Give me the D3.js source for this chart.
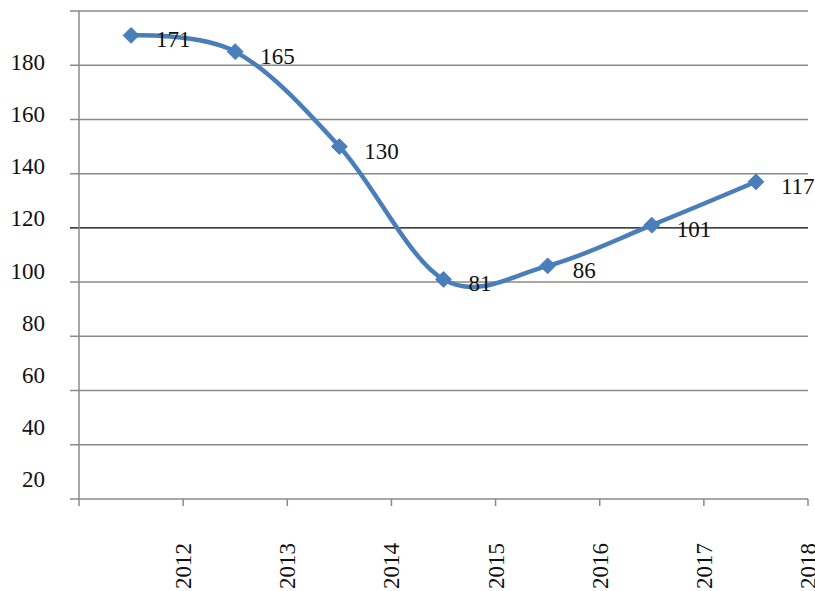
<!DOCTYPE html>
<html><head><meta charset="utf-8">
<script src="https://cdn.jsdelivr.net/npm/d3@7"></script>
<style>body{margin:0;background:#fff}svg{display:block}</style>
</head><body>
<svg id="c" width="815" height="591"></svg>
<script>
const categories = ["2012","2013","2014","2015","2016","2017","2018"];
const values = [171,165,130,81,86,101,117];
const gridValues = [0,20,40,60,80,100,120,140,160,180];
const tickLabels = [20,40,60,80,100,120,140,160,180];

(function(){
const svg = d3.select("#c");
const font = "'Liberation Serif','Times New Roman',serif";
const pL = 79, pR = 808, pT = 11, pB = 499;

const x = d3.scaleBand().domain(categories).range([pL, pR]);
const y = d3.scaleLinear().domain([0,180]).range([pB, pT]);
const yLab = d3.scaleLinear().domain([20,180]).range([479, 62]);

// gridlines
svg.append("g").selectAll("line").data(gridValues).join("line")
  .attr("x1", 70).attr("x2", pR)
  .attr("y1", d => y(d)).attr("y2", d => y(d))
  .attr("stroke", d => d === 100 ? "#000" : "#8a8a8a")
  .attr("stroke-width", d => d === 100 ? 1.3 : 1.5);

// y axis line
svg.append("line").attr("x1", pL).attr("x2", pL).attr("y1", pT).attr("y2", pB + 7)
  .attr("stroke", "#8a8a8a").attr("stroke-width", 1.5);

// x ticks at band ends
svg.append("g").selectAll("line").data(categories).join("line")
  .attr("x1", d => x(d) + x.bandwidth()).attr("x2", d => x(d) + x.bandwidth())
  .attr("y1", pB).attr("y2", pB + 7)
  .attr("stroke", "#8a8a8a").attr("stroke-width", 1.5);

// y labels
svg.append("g").selectAll("text").data(tickLabels).join("text")
  .attr("x", 45).attr("y", d => yLab(d)).attr("dy", "0.35em")
  .attr("text-anchor", "end").attr("font-family", font).attr("font-size", 23)
  .attr("fill", "#111").text(d => d);

// x labels
svg.append("g").selectAll("text").data(categories).join("text")
  .attr("transform", d => `translate(${x(d) + x.bandwidth()},543) rotate(-90)`)
  .attr("dy", "0.35em").attr("text-anchor", "end")
  .attr("font-family", font).attr("font-size", 23).attr("fill", "#111").text(d => d);

// line
const pts = categories.map((c, i) => [x(c) + x.bandwidth() / 2, y(values[i])]);
svg.append("path").attr("d", d3.line().curve(d3.curveCardinal.tension(0))(pts))
  .attr("fill", "none").attr("stroke", "#4a7ebb").attr("stroke-width", 4.5)
  .attr("stroke-linejoin", "round");

// markers
svg.append("g").selectAll("path").data(pts).join("path")
  .attr("transform", d => `translate(${d[0]},${d[1]})`)
  .attr("d", d3.symbol().type(d3.symbolDiamond2).size(160))
  .attr("fill", "#4a7ebb").attr("stroke", "#4a7ebb").attr("stroke-width", 1);

// data labels
svg.append("g").selectAll("text").data(values).join("text")
  .attr("x", (d, i) => pts[i][0] + 25).attr("y", (d, i) => pts[i][1] + 4)
  .attr("dy", "0.35em").attr("font-family", font).attr("font-size", 23)
  .attr("fill", "#111").text(d => d);
})();
</script>
</body></html>
